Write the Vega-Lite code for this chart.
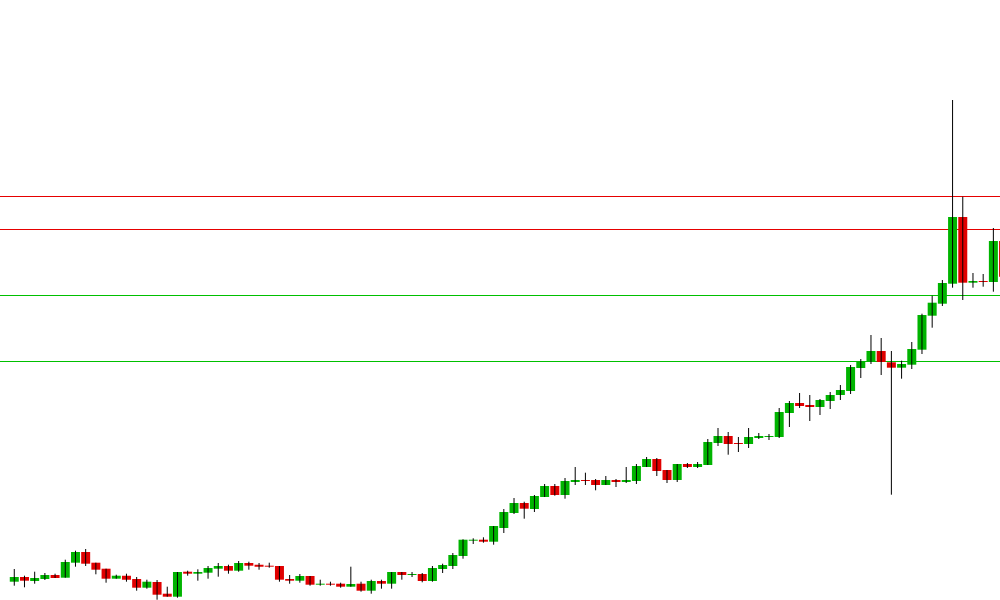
{
  "$schema": "https://vega.github.io/schema/vega-lite/v6.json",
  "width": 1000,
  "height": 600,
  "autosize": {"type": "none"},
  "padding": 0,
  "background": "white",
  "config": {"view": {"stroke": null}},
  "datasets": {
    "candles": [
      {"i":1,"o":18.3,"h":31,"l":14.3,"c":23},
      {"i":2,"o":23,"h":24.3,"l":12.7,"c":19.3},
      {"i":3,"o":19,"h":28.3,"l":16.3,"c":22},
      {"i":4,"o":21,"h":27,"l":20,"c":25},
      {"i":5,"o":25,"h":26.3,"l":22,"c":22},
      {"i":6,"o":22.3,"h":40.3,"l":22.3,"c":38},
      {"i":7,"o":37.3,"h":49.3,"l":33.3,"c":48},
      {"i":8,"o":48,"h":51,"l":34,"c":36.3},
      {"i":9,"o":37.3,"h":37.3,"l":25.7,"c":30.3},
      {"i":10,"o":31.3,"h":31.3,"l":17.3,"c":21.3},
      {"i":11,"o":21.3,"h":25.3,"l":21.3,"c":24.3},
      {"i":12,"o":24.3,"h":26.3,"l":18.3,"c":20.3},
      {"i":13,"o":21,"h":23,"l":9.3,"c":12.3},
      {"i":14,"o":12.3,"h":20.3,"l":11.3,"c":18.3},
      {"i":15,"o":18,"h":20,"l":0.3,"c":5.3},
      {"i":16,"o":6.3,"h":13.3,"l":3.3,"c":3.3},
      {"i":17,"o":3.3,"h":28,"l":2.3,"c":28},
      {"i":18,"o":28.3,"h":29.3,"l":24.3,"c":26.3},
      {"i":19,"o":26.3,"h":30.7,"l":19.3,"c":28},
      {"i":20,"o":27.3,"h":34,"l":21.3,"c":32},
      {"i":21,"o":31.3,"h":37,"l":23.3,"c":34},
      {"i":22,"o":34,"h":35.3,"l":26.3,"c":29.3},
      {"i":23,"o":29.3,"h":39,"l":28.3,"c":37},
      {"i":24,"o":37,"h":38.3,"l":30.3,"c":34.3},
      {"i":25,"o":35.3,"h":37,"l":30.3,"c":33.3},
      {"i":26,"o":34.3,"h":37.3,"l":32.3,"c":33.3},
      {"i":27,"o":34,"h":34,"l":18.3,"c":20.3},
      {"i":28,"o":21,"h":25,"l":16.3,"c":19.3},
      {"i":29,"o":19.3,"h":26,"l":17.3,"c":24},
      {"i":30,"o":24,"h":24,"l":14.3,"c":15.3},
      {"i":31,"o":15.3,"h":20.3,"l":14.3,"c":16.3},
      {"i":32,"o":16.3,"h":18.3,"l":14.3,"c":15.3},
      {"i":33,"o":16.3,"h":17.3,"l":12.3,"c":13.3},
      {"i":34,"o":13.3,"h":33.3,"l":13.3,"c":16},
      {"i":35,"o":16.3,"h":18.3,"l":8.3,"c":9.3},
      {"i":36,"o":9.3,"h":20.3,"l":6.3,"c":19},
      {"i":37,"o":19,"h":20.3,"l":11.3,"c":16.3},
      {"i":38,"o":16.3,"h":28,"l":11.3,"c":28},
      {"i":39,"o":28,"h":28,"l":20.3,"c":25},
      {"i":40,"o":25,"h":28,"l":23,"c":26},
      {"i":41,"o":26,"h":27,"l":17.7,"c":19},
      {"i":42,"o":19,"h":34,"l":18.3,"c":32},
      {"i":43,"o":31,"h":36.3,"l":27,"c":35},
      {"i":44,"o":34,"h":47,"l":31,"c":45},
      {"i":45,"o":44,"h":60.7,"l":41.3,"c":60.3},
      {"i":46,"o":59.3,"h":61.7,"l":56,"c":60.3},
      {"i":47,"o":60.3,"h":62.7,"l":57.3,"c":58.3},
      {"i":48,"o":58.3,"h":74,"l":55.3,"c":74},
      {"i":49,"o":72,"h":91,"l":67,"c":88},
      {"i":50,"o":87,"h":102,"l":86,"c":97},
      {"i":51,"o":97,"h":98.3,"l":81.3,"c":91.3},
      {"i":52,"o":91,"h":105,"l":88,"c":104},
      {"i":53,"o":103,"h":116,"l":103,"c":114},
      {"i":54,"o":114,"h":116,"l":104.3,"c":105},
      {"i":55,"o":105,"h":122,"l":101.3,"c":119},
      {"i":56,"o":118,"h":133,"l":115,"c":120},
      {"i":57,"o":120,"h":127.3,"l":115,"c":119},
      {"i":58,"o":120,"h":121,"l":109.7,"c":115},
      {"i":59,"o":115,"h":124,"l":115,"c":120},
      {"i":60,"o":120,"h":121,"l":113,"c":118},
      {"i":61,"o":118,"h":133,"l":117,"c":120},
      {"i":62,"o":119,"h":136,"l":116,"c":134},
      {"i":63,"o":133,"h":143,"l":133,"c":141},
      {"i":64,"o":141,"h":142,"l":124,"c":129},
      {"i":65,"o":130,"h":130,"l":117,"c":120},
      {"i":66,"o":120,"h":136,"l":118,"c":136},
      {"i":67,"o":136,"h":137,"l":132,"c":133},
      {"i":68,"o":133,"h":138,"l":132,"c":136},
      {"i":69,"o":135,"h":161,"l":135,"c":158},
      {"i":70,"o":157,"h":172,"l":154,"c":164},
      {"i":71,"o":164,"h":168,"l":145.3,"c":156},
      {"i":72,"o":157,"h":163,"l":148,"c":156},
      {"i":73,"o":156,"h":172,"l":152,"c":163},
      {"i":74,"o":162,"h":167,"l":161,"c":164},
      {"i":75,"o":163,"h":166,"l":160,"c":164},
      {"i":76,"o":163,"h":192,"l":162,"c":188},
      {"i":77,"o":187,"h":199,"l":173,"c":197},
      {"i":78,"o":197,"h":207,"l":192,"c":194},
      {"i":79,"o":195,"h":205,"l":179,"c":193},
      {"i":80,"o":193,"h":201,"l":185,"c":200},
      {"i":81,"o":199,"h":208,"l":191,"c":205},
      {"i":82,"o":205,"h":215,"l":200,"c":210},
      {"i":83,"o":209,"h":235,"l":206,"c":233},
      {"i":84,"o":232,"h":241,"l":222,"c":239},
      {"i":85,"o":238,"h":265,"l":236,"c":249},
      {"i":86,"o":249,"h":262,"l":225,"c":238},
      {"i":87,"o":237.7,"h":249,"l":105.3,"c":232.3},
      {"i":88,"o":232.3,"h":239.3,"l":221.3,"c":236},
      {"i":89,"o":235.3,"h":258,"l":231,"c":251},
      {"i":90,"o":250.3,"h":286.3,"l":246,"c":285},
      {"i":91,"o":284.3,"h":304.3,"l":272.3,"c":297.3},
      {"i":92,"o":296.3,"h":320,"l":294,"c":317},
      {"i":93,"o":316.3,"h":500,"l":312.3,"c":383},
      {"i":94,"o":383,"h":403.3,"l":300,"c":317.3},
      {"i":95,"o":317.3,"h":327,"l":312.3,"c":319},
      {"i":96,"o":319,"h":326,"l":313.3,"c":318},
      {"i":97,"o":318,"h":372,"l":308.3,"c":359},
      {"i":98,"o":359,"h":362,"l":318,"c":323.3}
    ],
    "levels": [
      {"level": 403.5, "kind": "resistance"},
      {"level": 370.5, "kind": "resistance"},
      {"level": 304.5, "kind": "support"},
      {"level": 238.5, "kind": "support"}
    ]
  },
  "layer": [
    {
      "data": {"name": "levels"},
      "mark": {"type": "rule", "strokeWidth": 1, "clip": true},
      "encoding": {
        "y": {"field": "level", "type": "quantitative", "scale": {"domain": [0, 600], "nice": false, "zero": false, "padding": 0}, "axis": null},
        "color": {"field": "kind", "type": "nominal", "scale": {"domain": ["resistance", "support"], "range": ["#e60000", "#00c000"]}, "legend": null}
      }
    },
    {
      "data": {"name": "candles"},
      "mark": {"type": "bar", "width": 9, "clip": true},
      "encoding": {
        "x": {"field": "i", "type": "quantitative", "scale": {"domain": [-0.40, 97.65], "nice": false, "zero": false, "padding": 0}, "axis": null},
        "y": {"field": "o", "type": "quantitative", "scale": {"domain": [0, 600], "nice": false, "zero": false, "padding": 0}, "axis": null},
        "y2": {"field": "c"},
        "color": {"condition": {"test": "datum.c >= datum.o", "value": "#00b400"}, "value": "#e00000"}
      }
    },
    {
      "data": {"name": "candles"},
      "mark": {"type": "rule", "color": "black", "strokeWidth": 1, "clip": true},
      "encoding": {
        "x": {"field": "i", "type": "quantitative", "scale": {"domain": [-0.40, 97.65], "nice": false, "zero": false, "padding": 0}, "axis": null},
        "y": {"field": "h", "type": "quantitative", "scale": {"domain": [0, 600], "nice": false, "zero": false, "padding": 0}, "axis": null},
        "y2": {"field": "l"}
      }
    }
  ]
}
